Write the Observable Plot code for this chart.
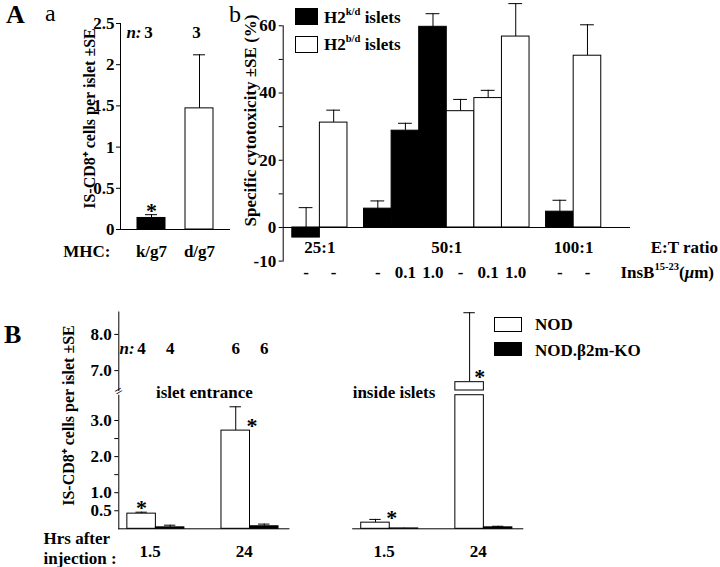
<!DOCTYPE html>
<html><head><meta charset="utf-8">
<script src="https://cdn.jsdelivr.net/npm/d3@7"></script>
<script src="https://cdn.jsdelivr.net/npm/@observablehq/plot@0.6"></script>
<style>
body{margin:0;background:#fff;}
#fig{position:relative;width:720px;height:567px;font-family:"Liberation Serif","Times New Roman",Times,serif;font-weight:bold;color:#000;overflow:hidden;background:#fff;}
#fig svg{position:absolute;left:0;top:0;}
.lbl{position:absolute;white-space:nowrap;line-height:1;}
.lbl sup{font-size:0.62em;line-height:0;position:relative;top:-0.1em;}
.sw{position:absolute;box-sizing:border-box;border:1px solid #000;}
</style></head><body><div id="fig"></div>
<script>
// ---------- Panel A-a data ----------
const mhc = ["k/g7", "d/g7"];
const aaCells = [0.14, 1.47];
const aaCellsTop = [0.18, 2.12];
const aaN = [3, 3];
const aaStar = [true, false];

// ---------- Panel A-b data ----------
const etGroups = ["25:1", "50:1", "100:1"];
const etRatio = ["25:1", "25:1", "50:1", "50:1", "50:1", "50:1", "50:1", "50:1", "100:1", "100:1"];
const isletKeys = ["k/d", "b/d"];
const islet = ["k/d", "b/d", "k/d", "k/d", "k/d", "b/d", "b/d", "b/d", "k/d", "b/d"];
const insB = ["-", "-", "-", "0.1", "1.0", "-", "0.1", "1.0", "-", "-"];
const cytotox = [-3, 31.2, 5.6, 28.8, 59.7, 34.6, 38.5, 56.8, 4.7, 51.1];
const cytotoxTop = [5.9, 34.9, 7.9, 31.0, 63.6, 38.1, 40.8, 66.6, 8.1, 60.3];

// ---------- Panel B data ----------
const strains = ["NOD", "NOD.β2m-KO"];
const locations = ["islet entrance", "inside islets"];
const hoursList = ["1.5", "24"];
const bLocation = ["islet entrance", "islet entrance", "islet entrance", "islet entrance", "inside islets", "inside islets", "inside islets", "inside islets"];
const bHours = ["1.5", "1.5", "24", "24", "1.5", "1.5", "24", "24"];
const bStrain = ["NOD", "NOD.β2m-KO", "NOD", "NOD.β2m-KO", "NOD", "NOD.β2m-KO", "NOD", "NOD.β2m-KO"];
const bCells = [0.42, 0.04, 2.72, 0.07, 0.17, 0.01, 6.68, 0.04];
const bCellsTop = [0.46, 0.10, 3.38, 0.13, 0.26, 0.02, 8.60, 0.07];
const bN = [4, 4, 6, 6, null, null, null, null];
const bStar = [true, false, true, false, true, false, true, false];

// ---------- helpers ----------
const fig = document.getElementById("fig");
const W = 720, H = 567;
const SERIF = '"Liberation Serif", "Times New Roman", Times, serif';
const baseStyle = {fontFamily: SERIF, fontWeight: "bold", fontSize: "17px", background: "transparent", overflow: "visible"};
function add(p) { fig.appendChild(p); }
function label(html, x, y, o = {}) {
  const d = document.createElement("div");
  d.className = "lbl";
  d.innerHTML = html;
  d.style.left = x + "px";
  d.style.top = y + "px";
  d.style.fontSize = (o.size || 17) + "px";
  if (o.weight) d.style.fontWeight = o.weight;
  const tx = o.anchor === "end" ? "-100%" : o.anchor === "middle" ? "-50%" : "0";
  d.style.transform = `translate(${tx},-50%)`;
  fig.appendChild(d);
}
function swatch(x, y, w, h, fill) {
  const d = document.createElement("div");
  d.className = "sw";
  Object.assign(d.style, {left: x + "px", top: y + "px", width: w + "px", height: h + "px", background: fill});
  fig.appendChild(d);
}
const fill2 = ["#000", "#fff"];
const T = {lineAnchor: "middle"};

// ---------- Panel A-a ----------
const aaData = mhc.map((m, i) => ({mhc: m, v: aaCells[i], top: aaCellsTop[i], n: aaN[i], star: aaStar[i]}));
add(Plot.plot({
  width: W, height: H,
  marginLeft: 120, marginRight: 490, marginTop: 23, marginBottom: H - 229,
  style: baseStyle,
  x: {type: "band", domain: mhc, paddingInner: 0.42, paddingOuter: 0.35},
  y: {domain: [0, 2.5]},
  color: {type: "ordinal", domain: mhc, range: fill2},
  marks: [
    Plot.axisY({ticks: [0, 0.5, 1, 1.5, 2, 2.5], tickFormat: d => String(d), tickSize: 4, tickPadding: 2, label: null}),
    Plot.axisX({tickSize: 0, tickPadding: 15, label: null}),
    Plot.ruleX(aaData, {x: "mhc", y1: "v", y2: "top", stroke: "#000"}),
    Plot.tickY(aaData, {x: "mhc", y: "top", insetLeft: 8, insetRight: 8, stroke: "#000"}),
    Plot.barY(aaData, {x: "mhc", y: "v", fill: "mhc", stroke: "#000"}),
    Plot.ruleY([0]),
    Plot.frame({anchor: "left"}),
    Plot.text(aaData, {...T, x: "mhc", text: d => String(d.n), frameAnchor: "top", dy: 9, dx: -3}),
    Plot.text(aaData.slice(0, 1), {...T, x: "mhc", text: () => "n:", frameAnchor: "top", dy: 9, dx: -10, textAnchor: "end", fontStyle: "italic"}),
    Plot.text(aaData.filter(d => d.star), {...T, x: "mhc", y: "top", text: () => "*", dy: -4, fontSize: 22}),
    Plot.text(["MHC:"], {text: d => d, frameAnchor: "bottom-left", dx: -10, dy: 15, textAnchor: "end", lineAnchor: "top"}),
    Plot.text(["IS-CD8⁺ cells per islet ±SE"], {...T, text: d => d, frameAnchor: "left", textAnchor: "middle", rotate: -90, dx: -31, dy: -8, fontSize: 16})
  ]
}));

// ---------- Panel A-b ----------
const abData = etRatio.map((e, i) => ({et: e, islet: islet[i], ins: insB[i], v: cytotox[i], top: cytotoxTop[i], pos: i + 0.6 * etGroups.indexOf(e)}));
const etLabelData = etGroups.map(g => ({g, x: d3.mean(abData.filter(d => d.et === g), d => d.pos + 0.5)}));
add(Plot.plot({
  width: W, height: H,
  marginLeft: 282.7, marginRight: W - 630, marginTop: 25.3, marginBottom: H - 260.6,
  style: baseStyle,
  x: {domain: [-0.33, 12.26], axis: null},
  y: {domain: [-10, 60]},
  color: {type: "ordinal", domain: isletKeys, range: fill2},
  marks: [
    Plot.axisY({ticks: d3.range(-10, 61, 10), tickFormat: d => (d % 20 === 0 || d === -10) ? String(d) : "", tickSize: 4, tickPadding: 3, label: null}),
    Plot.ruleX(abData, {x: d => d.pos + 0.5, y1: "v", y2: "top", stroke: "#000"}),
    Plot.ruleY(abData, {y: "top", x1: d => d.pos + 0.25, x2: d => d.pos + 0.75, stroke: "#000"}),
    Plot.rect(abData, {x1: "pos", x2: d => d.pos + 1, y1: () => 0, y2: "v", fill: "islet", stroke: "#000"}),
    Plot.ruleY([0]),
    Plot.frame({anchor: "left"}),
    Plot.text(etLabelData, {...T, x: "x", text: "g", frameAnchor: "bottom", dy: -14}),
    Plot.text(abData, {...T, x: d => d.pos + 0.5, text: "ins", frameAnchor: "bottom", dy: 11}),
    Plot.text(["Specific cytotoxicity ±SE (%)"], {...T, text: d => d, frameAnchor: "left", textAnchor: "middle", rotate: -90, dx: -33, dy: -23, fontSize: 17})
  ]
}));
label("E:T ratio", 718, 246.7, {anchor: "end"});
label("InsB<sup>15-23</sup>(<i>μ</i>m)", 714, 271.7, {anchor: "end"});
isletKeys.forEach((k, i) => {
  swatch(295, 8.3 + i * 28, 23, 16.5, fill2[i]);
  label(`H2<sup>${k}</sup> islets`, 324, 16.7 + i * 27, {size: 17});
});

// ---------- Panel B ----------
const LOWER_MAX = 3.7, UPPER_MIN = 6.45, UPPER_MAX = 8.62;
const bData = bCells.map((v, i) => {
  const li = locations.indexOf(bLocation[i]), ti = hoursList.indexOf(bHours[i]), si = strains.indexOf(bStrain[i]);
  return {loc: bLocation[i], hrs: bHours[i], strain: bStrain[i], v, top: bCellsTop[i], n: bN[i], star: bStar[i],
          li, ti, si, pos: li * 8.2 + 0.3 + ti * 3.3 + si};
});
const locData = locations.map((l, li) => ({l, li, x1: li * 8.2, x2: li * 8.2 + 6}));
const hrsData = bData.filter(d => d.si === 0).map(d => ({hrs: d.hrs, x: d.pos + 0.8}));
const xB = {domain: [0, 14.2], axis: null};
const colorB = {type: "ordinal", domain: strains, range: ["#fff", "#000"]};
const starCentered = d => d.loc === "islet entrance" && d.hrs === "1.5";

// lower segment
add(Plot.plot({
  width: W, height: H,
  marginLeft: 118.3, marginRight: W - 523.3, marginTop: 528.3 - LOWER_MAX * 36.1, marginBottom: H - 528.3,
  style: baseStyle,
  x: xB,
  y: {domain: [0, LOWER_MAX]},
  color: colorB,
  marks: [
    Plot.axisY({ticks: [0.5, 1, 1.5, 2, 2.5, 3], tickFormat: d => [0.5, 1, 2, 3].includes(d) ? d3.format(".1f")(d) : "", tickSize: 4, tickPadding: 3, label: null}),
    Plot.ruleX(bData.filter(d => d.top <= LOWER_MAX), {x: d => d.pos + 0.5, y1: "v", y2: "top", stroke: "#000"}),
    Plot.ruleY(bData.filter(d => d.top <= LOWER_MAX && d.top - d.v > 0.02), {y: "top", x1: d => d.pos + 0.3, x2: d => d.pos + 0.7, stroke: "#000"}),
    Plot.rect(bData, {x1: "pos", x2: d => d.pos + 1, y1: () => 0, y2: d => Math.min(d.v, LOWER_MAX), fill: "strain", stroke: "#000"}),
    Plot.ruleY(locData, {y: () => 0, x1: "x1", x2: "x2", stroke: "#000"}),
    Plot.frame({anchor: "left"}),
    Plot.text(bData.filter(d => d.star && d.v <= LOWER_MAX && starCentered(d)), {...T, x: d => d.pos + 0.5, y: "top", text: () => "*", dy: -4, fontSize: 22}),
    Plot.text(bData.filter(d => d.star && d.v <= LOWER_MAX && !starCentered(d)), {...T, x: d => d.pos + 1, y: "v", text: () => "*", dy: -5, dx: 2, fontSize: 22}),
    Plot.text(locData.slice(0, 1), {...T, x: d => (d.x1 + d.x2) / 2, text: "l", frameAnchor: "top", dy: -3}),
    Plot.text(locData.slice(1), {...T, x: "x1", text: "l", frameAnchor: "top", dy: -3, textAnchor: "start"}),
    Plot.text(hrsData, {...T, x: "x", text: "hrs", frameAnchor: "bottom", dy: 23}),
    Plot.text(["Hrs after\ninjection :"], {...T, text: d => d, frameAnchor: "bottom-left", dx: -75.3, dy: 18.4, textAnchor: "start", lineHeight: 1.18}),
    Plot.text(["IS-CD8⁺ cells per islet ±SE"], {...T, text: d => d, frameAnchor: "left", textAnchor: "middle", rotate: -90, dx: -50.3, dy: -46.5, fontSize: 16}),
    Plot.text(["="], {...T, text: d => d, frameAnchor: "top-left", textAnchor: "middle", rotate: -30, dy: -4, fontSize: 14, fontWeight: "normal"})
  ]
}));

// upper segment (after the axis break)
const upData = bData.filter(d => d.top > UPPER_MIN);
add(Plot.plot({
  width: W, height: H,
  marginLeft: 118.3, marginRight: W - 523.3, marginTop: 311.5, marginBottom: H - 390,
  style: baseStyle,
  x: xB,
  y: {domain: [UPPER_MIN, UPPER_MAX]},
  color: colorB,
  marks: [
    Plot.axisY({ticks: [7, 8], tickFormat: d3.format(".1f"), tickSize: 4, tickPadding: 3, label: null}),
    Plot.ruleX(upData, {x: d => d.pos + 0.5, y1: d => Math.max(d.v, UPPER_MIN), y2: "top", stroke: "#000"}),
    Plot.ruleY(upData, {y: "top", x1: d => d.pos + 0.3, x2: d => d.pos + 0.7, stroke: "#000"}),
    Plot.rect(bData.filter(d => d.v > UPPER_MIN), {x1: "pos", x2: d => d.pos + 1, y1: () => UPPER_MIN, y2: "v", fill: "strain", stroke: "#000"}),
    Plot.frame({anchor: "left"}),
    Plot.text(bData.filter(d => d.star && d.v > UPPER_MIN), {...T, x: d => d.pos + 1, y: "v", text: () => "*", dy: -5, dx: -4, fontSize: 22}),
    Plot.text(bData.filter(d => d.n != null), {...T, x: d => d.pos + 0.5, text: d => String(d.n), frameAnchor: "top", dy: 36.8}),
    Plot.text(bData.filter(d => d.n != null).slice(0, 1), {...T, x: d => d.pos + 0.5, text: () => "n:", frameAnchor: "top", dy: 36.8, dx: -7, textAnchor: "end", fontStyle: "italic"})
  ]
}));
strains.forEach((s, i) => {
  swatch(494, 317.3 + i * 24.5, 28, 14.5, ["#fff", "#000"][i]);
  label(s, 535, 324.3 + i * 25.7, {size: 17});
});

// panel letters
label("A", 6, 15, {size: 26});
label("a", 45, 13, {size: 24, weight: "normal"});
label("b", 229, 14, {size: 24, weight: "normal"});
label("B", 4, 335, {size: 26});
</script></body></html>
